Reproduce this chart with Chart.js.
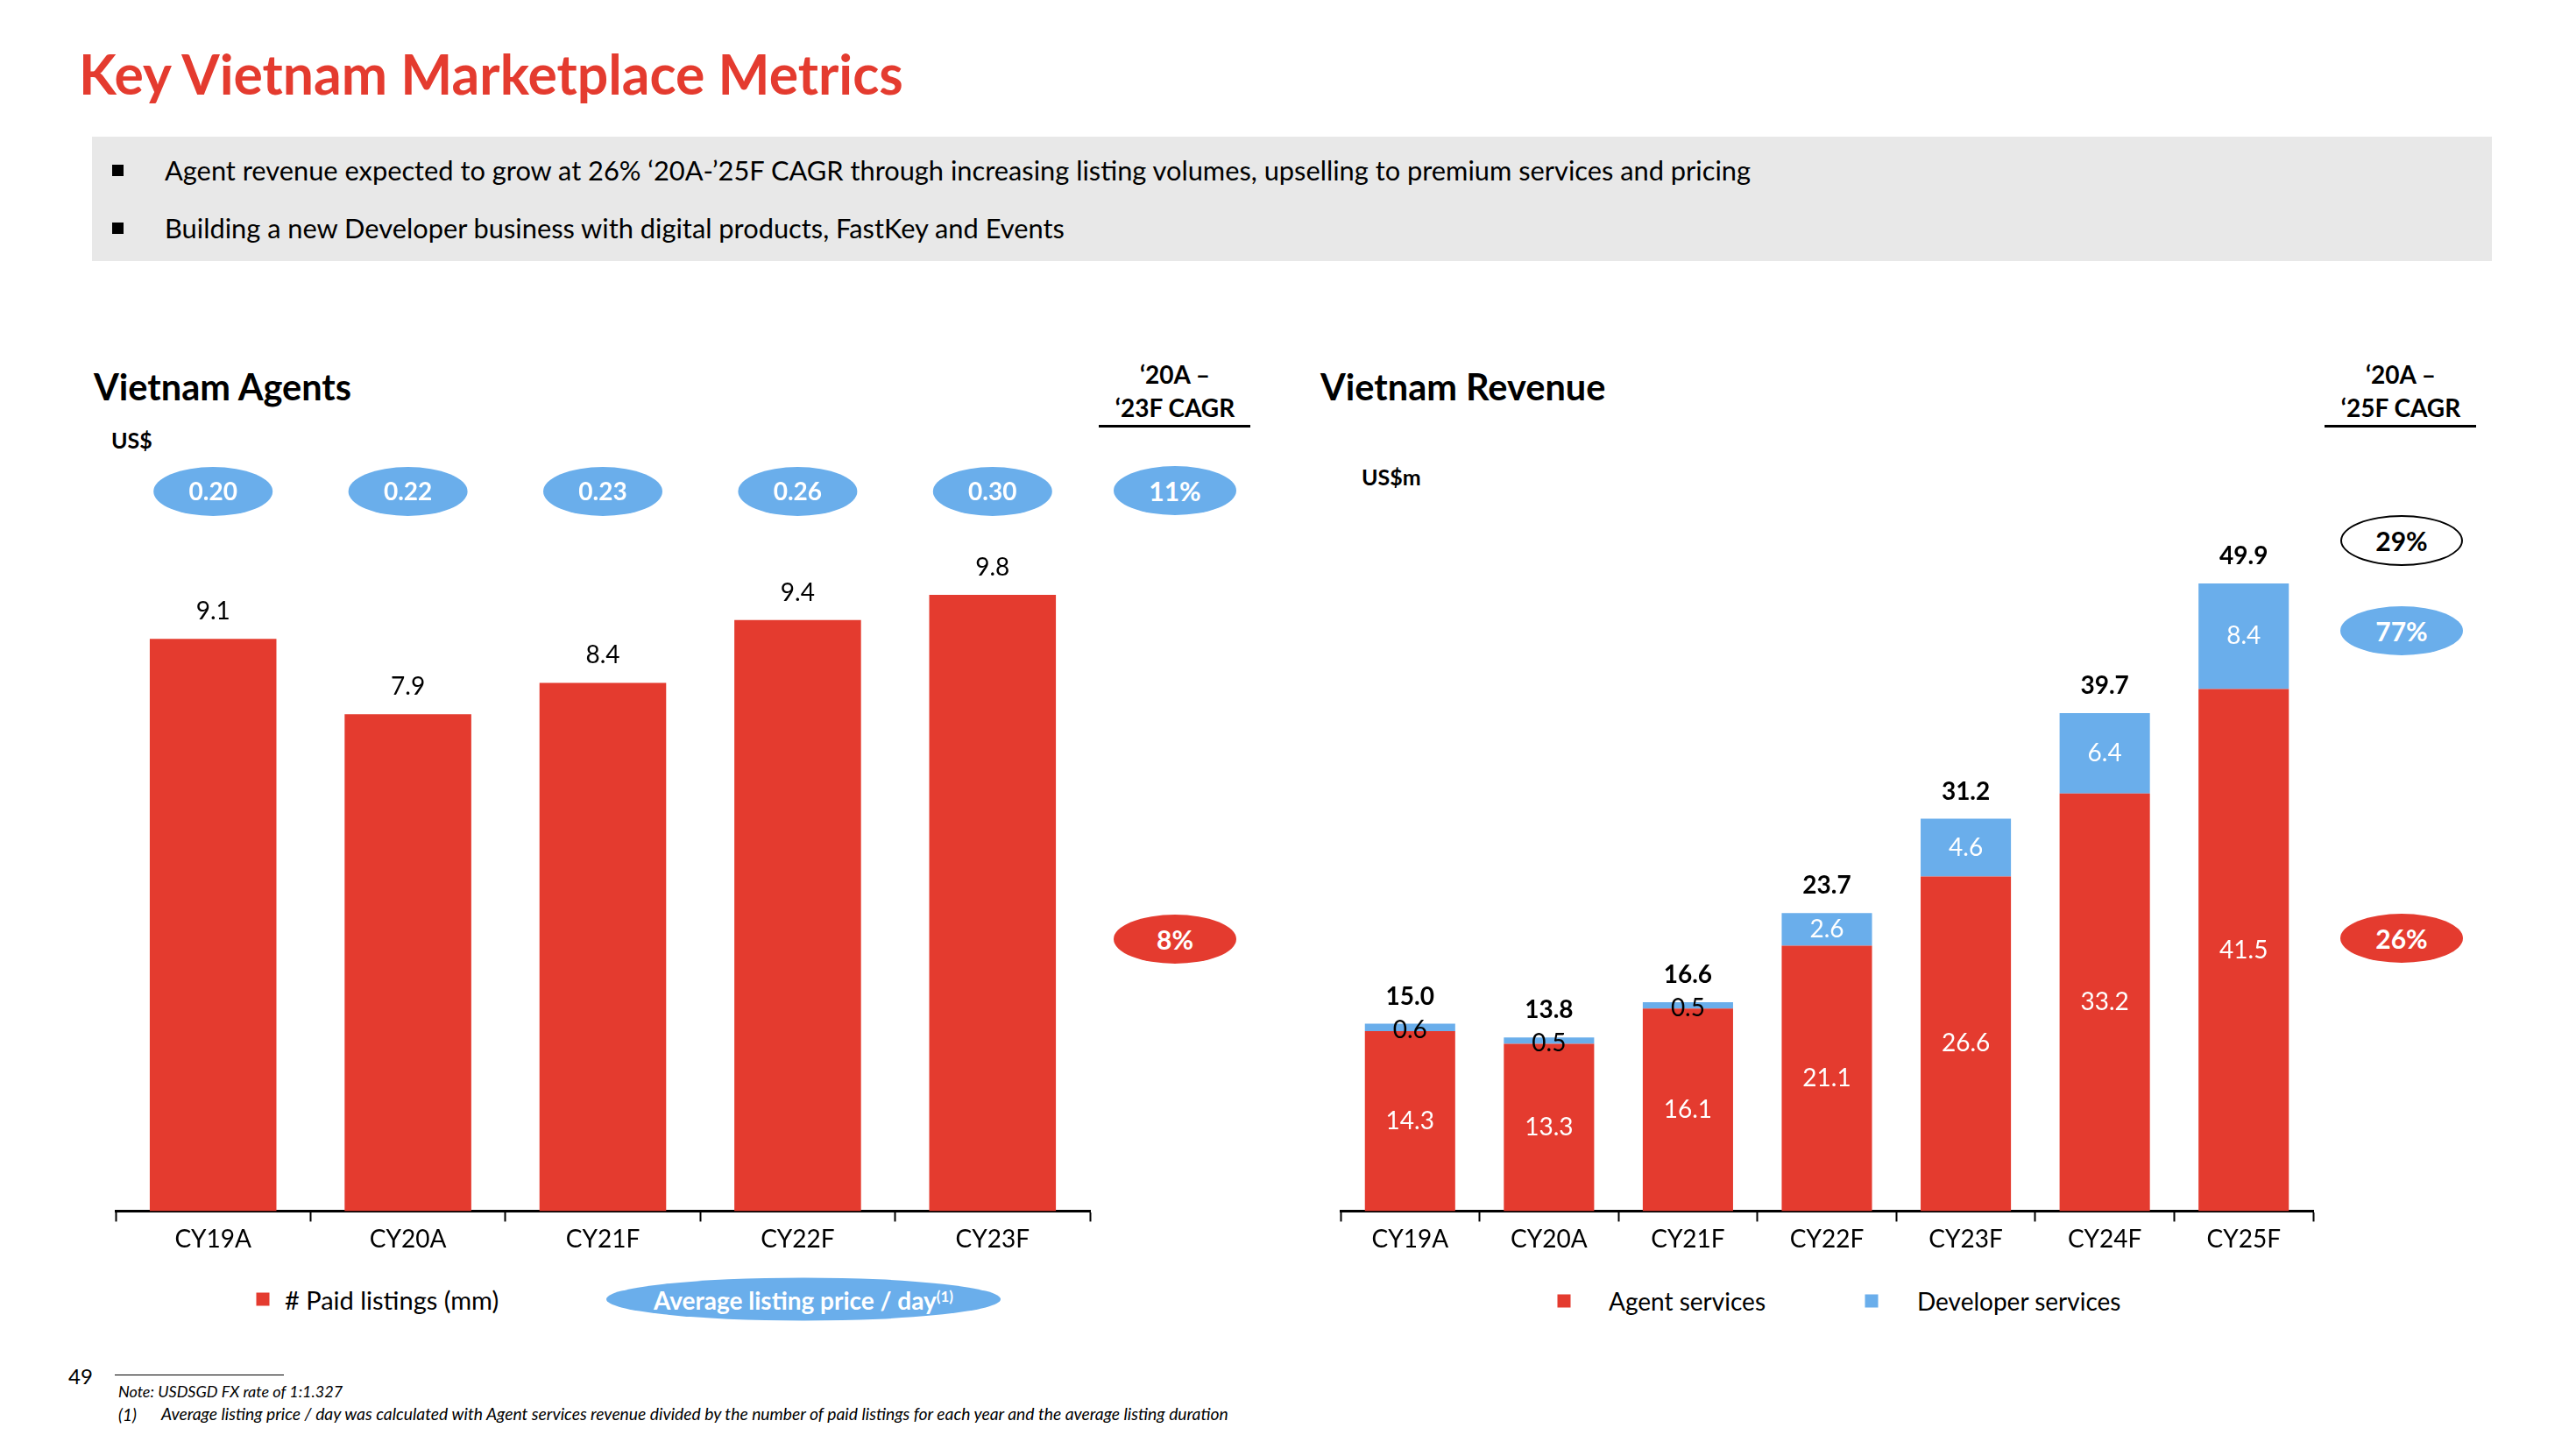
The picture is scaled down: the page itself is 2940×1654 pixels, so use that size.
<!DOCTYPE html>
<html><head><meta charset="utf-8">
<script src="https://cdn.jsdelivr.net/npm/chart.js@4.4.1/dist/chart.umd.min.js"></script>
<style>
html,body{margin:0;padding:0}
body{width:2940px;height:1654px;background:#fff;position:relative;font-family:Lato,'Open Sans',sans-serif;overflow:hidden;color:#000}
.a{position:absolute;white-space:nowrap;line-height:1}
.vc{transform:translate(0,-50%)}
.cc{transform:translate(-50%,-50%)}
.b{font-weight:700}
.ell{position:absolute;transform:translate(-50%,-50%);border-radius:50%;display:flex;align-items:center;justify-content:center;font-weight:700;color:#fff;font-size:30px}
</style></head><body>
<div class="a vc b" style="left:90px;top:84px;font-size:62.5px;color:#E43B2F">Key Vietnam Marketplace Metrics</div>
<div class="a" style="left:105px;top:156px;width:2739px;height:142px;background:#E8E8E8"></div>
<div class="a" style="left:128px;top:188px;width:13px;height:13px;background:#000"></div>
<div class="a vc" style="left:188px;top:195px;font-size:30.8px">Agent revenue expected to grow at 26% ‘20A-’25F CAGR through increasing listing volumes, upselling to premium services and pricing</div>
<div class="a" style="left:128px;top:254px;width:13px;height:13px;background:#000"></div>
<div class="a vc" style="left:188px;top:261px;font-size:30.8px">Building a new Developer business with digital products, FastKey and Events</div>

<div class="a vc b" style="left:107px;top:442px;font-size:41.5px">Vietnam Agents</div>
<div class="a vc b" style="left:127px;top:502px;font-size:25px">US$</div>
<div class="a cc b" style="left:1341px;top:427px;font-size:28px">‘20A –</div>
<div class="a cc b" style="left:1341px;top:465px;font-size:28px">‘23F CAGR</div>
<div class="a" style="left:1254px;top:485px;width:173px;height:3px;background:#000"></div>
<div class="ell" style="left:1341px;top:560px;width:140px;height:56px;background:#6AAEEB">11%</div>
<div class="ell" style="left:1341px;top:1072px;width:140px;height:56px;background:#E43B2F">8%</div>

<div class="a vc b" style="left:1507px;top:442px;font-size:41.5px">Vietnam Revenue</div>
<div class="a vc b" style="left:1554px;top:544px;font-size:25px">US$m</div>
<div class="a cc b" style="left:2740px;top:427px;font-size:28px">‘20A –</div>
<div class="a cc b" style="left:2740px;top:465px;font-size:28px">‘25F CAGR</div>
<div class="a" style="left:2653px;top:485px;width:173px;height:3px;background:#000"></div>
<div class="ell" style="left:2741px;top:617px;width:136px;height:54px;background:#fff;border:2px solid #000;color:#000">29%</div>
<div class="ell" style="left:2741px;top:720px;width:140px;height:56px;background:#6AAEEB">77%</div>
<div class="ell" style="left:2741px;top:1071px;width:140px;height:56px;background:#E43B2F">26%</div>

<div class="a" style="left:123px;top:480px;width:1128px;height:960px"><canvas id="c1"></canvas></div>
<div class="a" style="left:1520px;top:480px;width:1130px;height:960px"><canvas id="c2"></canvas></div>

<div class="a cc" style="left:300px;top:1483px;width:15px;height:15px;background:#E43B2F"></div>
<div class="a vc" style="left:325px;top:1483px;font-size:29px"># Paid listings (mm)</div>
<div class="ell" style="left:917px;top:1483px;width:450px;height:49px;background:#6AAEEB;font-size:28px">Average listing price / day<sup style="font-size:17px;position:relative;top:-4px">(1)</sup></div>

<div class="a cc" style="left:1785px;top:1485px;width:15px;height:15px;background:#E43B2F"></div>
<div class="a vc" style="left:1836px;top:1485px;font-size:28px">Agent services</div>
<div class="a cc" style="left:2136px;top:1485px;width:15px;height:15px;background:#6AAEEB"></div>
<div class="a vc" style="left:2188px;top:1485px;font-size:28px">Developer services</div>

<div class="a vc" style="left:78px;top:1571px;font-size:24px">49</div>
<div class="a" style="left:131px;top:1569px;width:193px;height:1px;background:#000"></div>
<div class="a vc" style="left:135px;top:1588px;font-size:18px;font-style:italic">Note: USDSGD FX rate of 1:1.327</div>
<div class="a vc" style="left:135px;top:1614px;font-size:19px;font-style:italic">(1)</div>
<div class="a vc" style="left:184px;top:1614px;font-size:19.3px;font-style:italic">Average listing price / day was calculated with Agent services revenue divided by the number of paid listings for each year and the average listing duration</div>

<script>
// ---- data ----
const agentCategories = ['CY19A','CY20A','CY21F','CY22F','CY23F'];
const paidListings = [9.1, 7.9, 8.4, 9.4, 9.8];
const avgListingPrice = ['0.20','0.22','0.23','0.26','0.30'];

const revenueCategories = ['CY19A','CY20A','CY21F','CY22F','CY23F','CY24F','CY25F'];
const agentServices = [14.3, 13.3, 16.1, 21.1, 26.6, 33.2, 41.5];
const developerServices = [0.6, 0.5, 0.5, 2.6, 4.6, 6.4, 8.4];
const revenueTotals = [15.0, 13.8, 16.6, 23.7, 31.2, 39.7, 49.9];

const RED = '#E43B2F', BLUE = '#6AAEEB';
const FONT = 'Lato, "Open Sans", sans-serif';
Chart.defaults.font.family = FONT;
Chart.defaults.color = '#000';

function ellipse(ctx, x, y, rx, ry, fill){
  ctx.beginPath(); ctx.ellipse(x, y, rx, ry, 0, 0, Math.PI*2); ctx.fillStyle = fill; ctx.fill();
}

const labelPlugin = {
  id: 'vlabels',
  afterDatasetsDraw(chart, args, opts){
    const ctx = chart.ctx;
    ctx.save();
    ctx.textAlign = 'center'; ctx.textBaseline = 'middle';
    if (opts.mode === 'agents'){
      const meta = chart.getDatasetMeta(0);
      meta.data.forEach((bar, i) => {
        ctx.font = '28px ' + FONT; ctx.fillStyle = '#000';
        ctx.fillText(paidListings[i].toFixed(1), bar.x, bar.y - 31);
        ellipse(ctx, bar.x, opts.bubbleY, 68, 28, BLUE);
        ctx.font = 'bold 28px ' + FONT; ctx.fillStyle = '#fff';
        ctx.fillText(avgListingPrice[i], bar.x, opts.bubbleY + 1);
      });
    } else {
      const m0 = chart.getDatasetMeta(0), m1 = chart.getDatasetMeta(1);
      m0.data.forEach((bar, i) => {
        ctx.font = '28px ' + FONT; ctx.fillStyle = '#fff';
        ctx.fillText(agentServices[i].toFixed(1), bar.x, (bar.y + bar.base) / 2);
      });
      m1.data.forEach((bar, i) => {
        const h = bar.base - bar.y;
        ctx.font = '28px ' + FONT; ctx.fillStyle = h < 30 ? '#000' : '#fff';
        ctx.fillText(developerServices[i].toFixed(1), bar.x, (bar.y + bar.base) / 2 + (h < 30 ? 3 : 0));
        ctx.font = 'bold 28px ' + FONT; ctx.fillStyle = '#000';
        ctx.fillText(revenueTotals[i].toFixed(1), bar.x, bar.y - 31);
      });
    }
    ctx.restore();
  }
};

function xAxis(){
  return {
    offset: true,
    grid: {display: true, drawOnChartArea: false, drawTicks: true, tickLength: 12, tickWidth: 2, tickColor: '#000', offset: true},
    border: {display: true, color: '#000', width: 3},
    ticks: {font: {size: 28}, color: '#000', padding: 4, maxRotation: 0, autoSkip: false}
  };
}

new Chart(document.getElementById('c1'), {
  type: 'bar',
  data: {labels: agentCategories, datasets: [{label: '# Paid listings (mm)', data: paidListings, backgroundColor: RED, barPercentage: 0.65, categoryPercentage: 1}]},
  options: {
    responsive: true, maintainAspectRatio: false, animation: false,
    layout: {padding: {top: 41, bottom: 4, left: 9, right: 7}},
    plugins: {legend: {display: false}, tooltip: {enabled: false}, vlabels: {mode: 'agents', bubbleY: 81}},
    scales: {x: xAxis(), y: {display: false, min: 0, max: 12}}
  },
  plugins: [labelPlugin]
});

new Chart(document.getElementById('c2'), {
  type: 'bar',
  data: {labels: revenueCategories, datasets: [
    {label: 'Agent services', data: agentServices, backgroundColor: RED, barPercentage: 0.65, categoryPercentage: 1},
    {label: 'Developer services', data: developerServices, backgroundColor: BLUE, barPercentage: 0.65, categoryPercentage: 1}
  ]},
  options: {
    responsive: true, maintainAspectRatio: false, animation: false,
    layout: {padding: {top: 41, bottom: 4, left: 10, right: 10}},
    plugins: {legend: {display: false}, tooltip: {enabled: false}, vlabels: {mode: 'revenue'}},
    scales: {x: Object.assign(xAxis(), {stacked: true}), y: {display: false, stacked: true, min: 0, max: 60}}
  },
  plugins: [labelPlugin]
});
</script>
</body></html>
